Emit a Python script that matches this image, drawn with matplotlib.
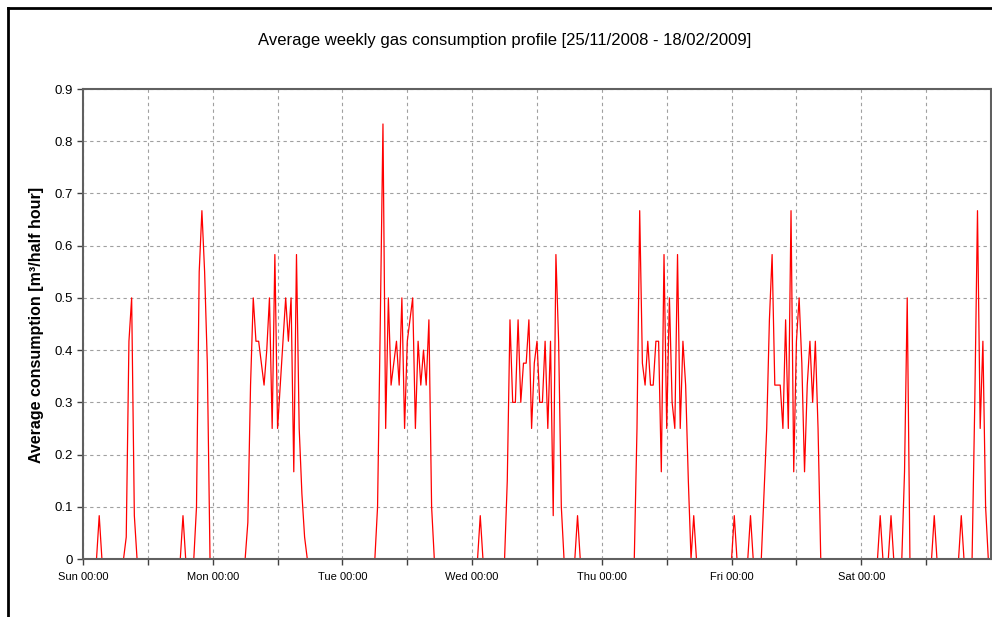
import matplotlib as mpl
mpl.use('Agg')
import matplotlib.pyplot as plt
from matplotlib.lines import Line2D

plt.rcParams['font.family'] = ['Liberation Sans', 'DejaVu Sans']

# half-hour averages over one week, Sun 00:00 .. Sat 23:30 (336 values)
consumption = [
    0, 0, 0, 0, 0, 0, 0.083, 0, 0, 0, 0, 0, 0, 0, 0, 0, 0.042, 0.417, 0.5, 0.083, 0, 0, 0, 0,
    0, 0, 0, 0, 0, 0, 0, 0, 0, 0, 0, 0, 0, 0.083, 0, 0, 0, 0, 0.1, 0.55, 0.667, 0.55, 0.375, 0,
    0, 0, 0, 0, 0, 0, 0, 0, 0, 0, 0, 0, 0, 0.07, 0.333, 0.5, 0.417, 0.417, 0.375, 0.333, 0.4, 0.5, 0.25, 0.583,
    0.25, 0.333, 0.417, 0.5, 0.417, 0.5, 0.167, 0.583, 0.25, 0.125, 0.042, 0, 0, 0, 0, 0, 0, 0, 0, 0, 0, 0, 0, 0,
    0, 0, 0, 0, 0, 0, 0, 0, 0, 0, 0, 0, 0, 0.1, 0.45, 0.833, 0.25, 0.5, 0.333, 0.375, 0.417, 0.333, 0.5, 0.25,
    0.417, 0.458, 0.5, 0.25, 0.417, 0.333, 0.4, 0.333, 0.458, 0.1, 0, 0, 0, 0, 0, 0, 0, 0, 0, 0, 0, 0, 0, 0,
    0, 0, 0, 0.083, 0, 0, 0, 0, 0, 0, 0, 0, 0, 0.15, 0.458, 0.3, 0.3, 0.458, 0.3, 0.375, 0.375, 0.458, 0.25, 0.375,
    0.417, 0.3, 0.3, 0.417, 0.25, 0.417, 0.083, 0.583, 0.417, 0.1, 0, 0, 0, 0, 0, 0.083, 0, 0, 0, 0, 0, 0, 0, 0,
    0, 0, 0, 0, 0, 0, 0, 0, 0, 0, 0, 0, 0, 0.25, 0.667, 0.375, 0.333, 0.417, 0.333, 0.333, 0.417, 0.417, 0.167, 0.583,
    0.25, 0.5, 0.3, 0.25, 0.583, 0.25, 0.417, 0.333, 0.15, 0, 0.083, 0, 0, 0, 0, 0, 0, 0, 0, 0, 0, 0, 0, 0,
    0, 0.083, 0, 0, 0, 0, 0, 0.083, 0, 0, 0, 0, 0.125, 0.25, 0.458, 0.583, 0.333, 0.333, 0.333, 0.25, 0.458, 0.25, 0.667, 0.167,
    0.417, 0.5, 0.375, 0.167, 0.333, 0.417, 0.3, 0.417, 0.25, 0, 0, 0, 0, 0, 0, 0, 0, 0, 0, 0, 0, 0, 0, 0,
    0, 0, 0, 0, 0, 0, 0, 0.083, 0, 0, 0, 0.083, 0, 0, 0, 0, 0.167, 0.5, 0, 0, 0, 0, 0, 0,
    0, 0, 0, 0.083, 0, 0, 0, 0, 0, 0, 0, 0, 0, 0.083, 0, 0, 0, 0, 0.3, 0.667, 0.25, 0.417, 0.1, 0,
]
day_labels = ['Sun 00:00', 'Mon 00:00', 'Tue 00:00', 'Wed 00:00', 'Thu 00:00', 'Fri 00:00', 'Sat 00:00']
y_ticks = [0, 0.1, 0.2, 0.3, 0.4, 0.5, 0.6, 0.7, 0.8, 0.9]
y_tick_labels = ['0', '0.1', '0.2', '0.3', '0.4', '0.5', '0.6', '0.7', '0.8', '0.9']

x = list(range(len(consumption)))

fig = plt.figure(figsize=(9.92, 6.17), dpi=100)
ax = fig.add_axes([83 / 992, 1 - 559 / 617, 908 / 992, 470 / 617])

ax.plot(x, consumption, color='red', lw=0.9)

ax.set_xlim(0, 336)
ax.set_ylim(0, 0.9)
ax.set_xticks([48 * k for k in range(7)])
ax.set_xticklabels(day_labels, fontsize=8)
ax.set_xticks([24 + 48 * k for k in range(7)], minor=True)
ax.set_yticks(y_ticks)
ax.set_yticklabels(y_tick_labels, fontsize=9.5)
ax.tick_params(axis='both', which='both', direction='out', length=4, width=1, color='#404040', pad=3)
ax.tick_params(axis='x', pad=5)

for s in ax.spines.values():
    s.set_color('#606060')
    s.set_linewidth(1.5)

ax.grid(True, which='both', axis='x', color='#a0a0a0', linestyle=(0, (3, 3)), lw=0.8)
ax.grid(True, which='major', axis='y', color='#a0a0a0', linestyle=(0, (3, 3)), lw=0.8)
ax.set_axisbelow(True)

fig.text(505 / 992, 1 - 41 / 617, 'Average weekly gas consumption profile [25/11/2008 - 18/02/2009]',
         ha='center', va='center', fontsize=12)
fig.text(37 / 992, 1 - 325 / 617, 'Average consumption [m³/half hour]', rotation=90,
         ha='center', va='center', fontsize=11.5, fontweight='bold')

# outer chart frame (top and left edges)
fig.add_artist(Line2D([8 / 992, 8 / 992], [0, 1 - 8 / 617], color='black', lw=2, transform=fig.transFigure))
fig.add_artist(Line2D([8 / 992, 1], [1 - 8 / 617, 1 - 8 / 617], color='black', lw=2, transform=fig.transFigure))

fig.savefig('out.png', dpi=100)
plt.close(fig)
